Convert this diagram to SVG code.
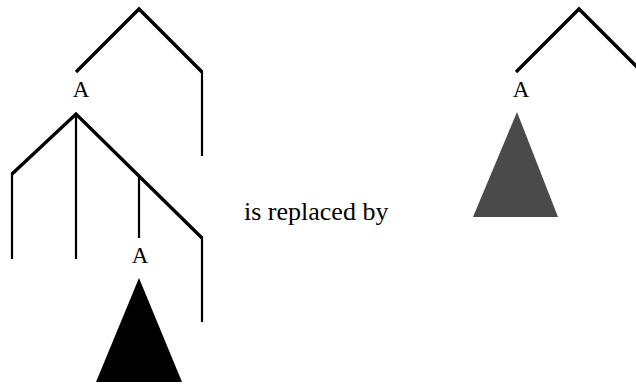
<svg xmlns="http://www.w3.org/2000/svg" width="636" height="385" viewBox="0 0 636 385">
<style>
.br{fill:none;stroke:#000;stroke-width:3.4;stroke-linecap:butt;stroke-linejoin:miter}
.vt{fill:none;stroke:#000;stroke-width:2.2}
.lbl{font-family:"Liberation Serif","Times New Roman","DejaVu Serif",serif;font-size:23px;fill:#000;text-anchor:middle}
.txt{font-family:"Liberation Serif","Times New Roman","DejaVu Serif",serif;font-size:26px;fill:#000}
</style>
<rect width="636" height="385" fill="#fff"/>
<g id="connectors">
<path class="br" d="M76,72 L139,9 L202,72"/>
<path class="vt" d="M202,71 V156"/>
<path class="br" d="M12,174 L76,114 L202,238"/>
<path class="vt" d="M12,173 V259"/>
<path class="vt" d="M76,114 V259"/>
<path class="vt" d="M139,176 V238"/>
<path class="vt" d="M202,237 V322"/>
<path class="br" d="M516,72 L579,9 L640,70"/>
</g>
<g id="A_top"><text class="lbl" x="81" y="97">A</text></g>
<g id="A_inner"><text class="lbl" x="140" y="263">A</text></g>
<g id="subtree_black"><polygon points="139,278 96,382 182,382" fill="#000"/></g>
<g id="label_replaced"><text class="txt" x="244" y="220">is replaced by</text></g>
<g id="A_right"><text class="lbl" x="521" y="97">A</text></g>
<g id="subtree_gray"><polygon points="517,112 473,217 558,217" fill="#4a4a4a"/></g>
</svg>
